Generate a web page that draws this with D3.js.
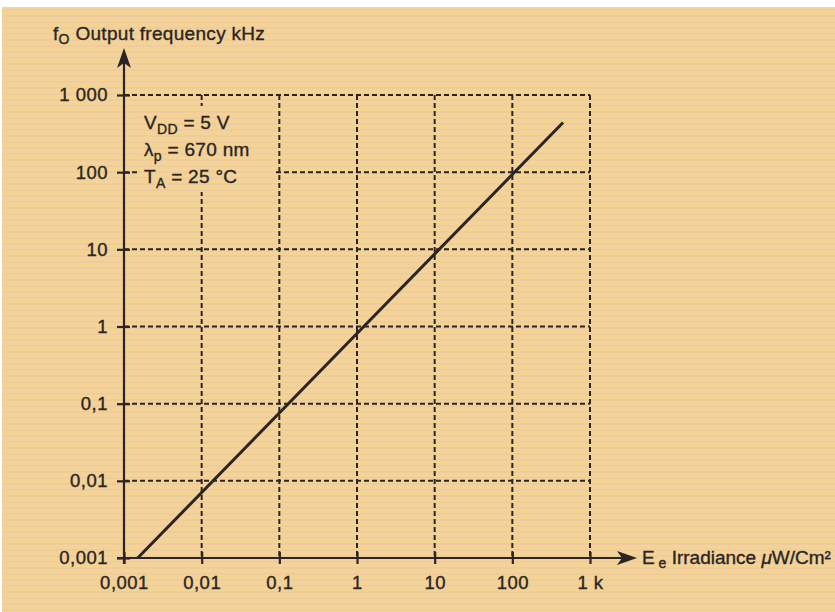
<!DOCTYPE html>
<html><head><meta charset="utf-8">
<script src="https://cdn.jsdelivr.net/npm/d3@7"></script>
<style>body{margin:0;background:#fff}svg{display:block}</style>
</head><body>
<svg id="c" width="835" height="612"></svg>
<script>
const xTicks = [0.001, 0.01, 0.1, 1, 10, 100, 1000];
const xTickLabels = ["0,001", "0,01", "0,1", "1", "10", "100", "1 k"];
const yTicks = [0.001, 0.01, 0.1, 1, 10, 100, 1000];
const yTickLabels = ["0,001", "0,01", "0,1", "1", "10", "100", "1 000"];
const irradiance = [0.0015, 450];
const frequency = [0.001, 440];
const notes = [["V", "DD", " = 5 V"], ["λ", "p", " = 670 nm"], ["T", "A", " = 25 °C"]];

const svg = d3.select("#c");
const defs = svg.append("defs");
const pat = defs.append("pattern").attr("id", "stripes").attr("patternUnits", "userSpaceOnUse")
  .attr("width", 835).attr("height", 6);
pat.append("rect").attr("width", 835).attr("height", 6).attr("fill", "#f3d494");
pat.append("rect").attr("y", 3).attr("width", 835).attr("height", 2).attr("fill", "#efc8a4").attr("opacity", 0.8);
svg.append("rect").attr("x", 2).attr("y", 7).attr("width", 833).attr("height", 605).attr("fill", "url(#stripes)");

const x = d3.scaleLog().domain([0.001, 1000]).range([124, 590]);
const y = d3.scaleLog().domain([0.001, 1000]).range([558, 95]);
const ink = "#2a2522";
const font = "'Liberation Sans', Arial, sans-serif";
const styleText = s => s.attr("font-family", font).attr("fill", ink).attr("stroke", ink).attr("stroke-width", 0.35);

// grid
const g = svg.append("g").attr("stroke", ink).attr("stroke-width", 2).attr("stroke-dasharray", "5,3");
g.selectAll(".h").data(yTicks.slice(1)).join("line")
  .attr("x1", x(0.001)).attr("x2", x(1000)).attr("y1", d => y(d)).attr("y2", d => y(d));
g.selectAll(".v").data(xTicks.slice(1)).join("line")
  .attr("x1", d => x(d)).attr("x2", d => x(d)).attr("y1", y(1000)).attr("y2", y(0.001));

// axes
const xAxis = d3.axisBottom(x).tickValues(xTicks).tickFormat((d, i) => xTickLabels[i]).tickSize(0).tickPadding(18);
const yAxis = d3.axisLeft(y).tickValues(yTicks).tickFormat((d, i) => yTickLabels[i]).tickSize(0).tickPadding(16);
const gx = svg.append("g").attr("transform", `translate(0,${y(0.001)})`).call(xAxis);
const gy = svg.append("g").attr("transform", `translate(${x(0.001)},0)`).call(yAxis);
[gx, gy].forEach(a => {
  a.select(".domain").remove();
  styleText(a.selectAll("text")).attr("font-size", 18.5).attr("letter-spacing", 0.5);
});
gx.selectAll(".tick").append("line").attr("y1", -6).attr("y2", 6).attr("stroke", ink).attr("stroke-width", 2.2);
gy.selectAll(".tick").append("line").attr("x1", -7).attr("x2", 6).attr("stroke", ink).attr("stroke-width", 2.2);

// notes box (covers grid behind annotation)
svg.append("rect").attr("x", 140).attr("y", 106).attr("width", 134).attr("height", 86).attr("fill", "url(#stripes)");

// axis lines with arrows
svg.append("line").attr("x1", x(0.001) - 7).attr("x2", 622).attr("y1", y(0.001)).attr("y2", y(0.001))
  .attr("stroke", ink).attr("stroke-width", 2.2);
svg.append("path").attr("d", `M637,${y(0.001)} L617,${y(0.001) - 7} L622,${y(0.001)} L617,${y(0.001) + 7} Z`).attr("fill", ink);
svg.append("line").attr("x1", x(0.001)).attr("x2", x(0.001)).attr("y1", y(0.001) + 6).attr("y2", 62)
  .attr("stroke", ink).attr("stroke-width", 2.2);
svg.append("path").attr("d", `M${x(0.001)},48 L${x(0.001) - 7},68 L${x(0.001)},63 L${x(0.001) + 7},68 Z`).attr("fill", ink);

// curve
const lineGen = d3.line().x(d => x(d[0])).y(d => y(d[1]));
svg.append("path").datum(irradiance.map((v, i) => [v, frequency[i]])).attr("d", lineGen)
  .attr("fill", "none").attr("stroke", ink).attr("stroke-width", 3);

// titles
const yt = styleText(svg.append("text").attr("x", 53).attr("y", 40).attr("font-size", 19).attr("letter-spacing", 0.3));
yt.append("tspan").text("f");
yt.append("tspan").attr("font-size", 14).attr("dy", 4).text("O");
yt.append("tspan").attr("dy", -4).text(" Output frequency kHz");

const xt = styleText(svg.append("text").attr("x", 642).attr("y", 564).attr("font-size", 19));
xt.append("tspan").text("E");
xt.append("tspan").attr("font-size", 14).attr("dy", 4).text(" e");
xt.append("tspan").attr("dy", -4).text(" Irradiance ");
xt.append("tspan").attr("font-style", "italic").text("μ");
xt.append("tspan").text("W/Cm²");

// notes
notes.forEach((n, i) => {
  const t = styleText(svg.append("text").attr("x", 144).attr("y", 129 + i * 27).attr("font-size", 19).attr("letter-spacing", 0.3));
  t.append("tspan").text(n[0]);
  t.append("tspan").attr("font-size", 14).attr("dy", 5).text(n[1]);
  t.append("tspan").attr("dy", -5).text(n[2]);
});
</script>
</body></html>
